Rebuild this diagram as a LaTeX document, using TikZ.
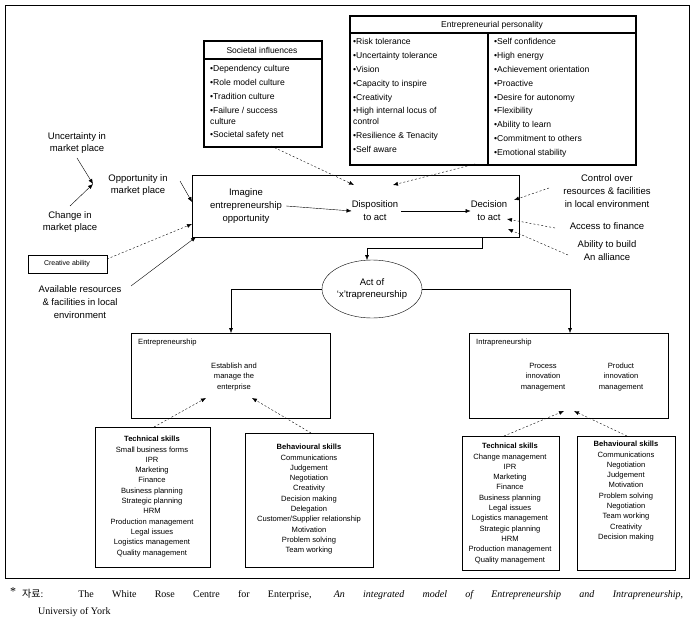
\documentclass[tikz,border=0pt]{standalone}
\usepackage{fontspec}
\setmainfont{Liberation Sans}
\newfontfamily\serifff{Liberation Serif}
\newfontfamily\kor{Noto Sans CJK KR}
\usetikzlibrary{arrows.meta,shapes.geometric}
\begin{document}
\begin{tikzpicture}[x=1pt,y=-1pt,
  box/.style={draw,inner sep=0pt,anchor=north west},
  tbox/.style={draw,line width=1.6pt,inner sep=0pt,anchor=north west},
  txt/.style={font=\fontsize{8.5}{10}\selectfont,align=center,inner sep=0pt},
  lbl/.style={txt,font=\fontsize{9.5}{12.8}\selectfont},
  lst/.style={font=\fontsize{8.6}{13.9}\selectfont,align=left,inner sep=0pt,anchor=north west},
  sk/.style={font=\fontsize{7.6}{10.3}\selectfont,align=center,inner sep=0pt,anchor=north},
  arr/.style={-{Latex[length=5pt,width=4pt]}},
  darr/.style={arr,dashed,dash pattern=on 2pt off 2pt}]
\useasboundingbox (0,0) rectangle (695,628);
\draw (5,5) rectangle (689,578);
% Entrepreneurial personality
\node[tbox,minimum width=286pt,minimum height=149pt] (ep) at (349,15) {};
\draw[line width=1.6pt] (349,33) -- (635,33);
\draw[line width=1.6pt] (488,33) -- (488,164);
\node[txt] (eph) at (492,25) {Entrepreneurial personality};
\node[lst] (epl) at (353,38) {•Risk tolerance\\•Uncertainty tolerance\\•Vision\\•Capacity to inspire\\•Creativity\\•High internal locus of\\[-3pt]control\\•Resilience \& Tenacity\\•Self aware};
\node[lst] (epr) at (494,38) {•Self confidence\\•High energy\\•Achievement orientation\\•Proactive\\•Desire for autonomy\\•Flexibility\\•Ability to learn\\•Commitment to others\\•Emotional stability};
% Societal
\node[tbox,minimum width=118pt,minimum height=106pt] (si) at (203,40) {};
\draw[line width=1.6pt] (203,59) -- (321,59);
\node[txt] (sih) at (262,50) {Societal influences};
\node[lst] (sil) at (210,65) {•Dependency culture\\•Role model culture\\•Tradition culture\\•Failure / success\\[-3pt]culture\\•Societal safety net};
% main box
\node[box,minimum width=327pt,minimum height=62pt] (mb) at (192,175) {};
\node[lbl] (im) at (246,206) {Imagine\\entrepreneurship\\opportunity};
\node[lbl] (di) at (375,211) {Disposition\\to act};
\node[lbl] (de) at (489,211) {Decision\\to act};
\draw[arr] (im.east) ++(4,0) coordinate (a1) (a1) -- (di.west);
\draw[arr] (di.east) ++(3,0) coordinate (a2) (a2) -- (de.west);
% left inputs
\node[lbl] (un) at (77,143) {Uncertainty in\\market place};
\node[lbl] (op) at (138,185) {Opportunity in\\market place};
\node[lbl] (ch) at (70,222) {Change in\\market place};
\coordinate (opl) at (93,184);
\draw[arr] (77,158) -- (opl);
\draw[arr] (70,206) -- (opl);
\draw[arr] (180,181) -- (192,202);
\node[box,minimum width=79pt,minimum height=18pt] (cr) at (28,255) {};
\node[txt,font=\fontsize{7}{8}\selectfont] (crt) at (67,264) {Creative ability};
\draw[darr] (107,259) -- (192,224);
\node[lbl] (av) at (80,302) {Available resources\\\& facilities in local\\environment};
\draw[arr] (131,286) -- (196,237);
% top dashed arrows
\draw[darr] (271,146) -- (354,185);
\draw[darr] (475,164) -- (393,185);
% right inputs
\node[lbl] (co) at (607,191) {Control over\\resources \& facilities\\in local environment};
\node[lbl] (fi) at (607,226) {Access to finance};
\node[lbl] (al) at (607,251) {Ability to build\\An alliance};
\draw[darr] (549,188) -- (514,200);
\draw[darr] (555,228) -- (507,219);
\draw[darr] (568,255) -- (508,229);
% ellipse
\node[ellipse,draw,minimum width=100pt,minimum height=58pt,inner sep=0pt,lbl] (xt) at (372,289) {Act of\\`x'trapreneurship};
\draw[arr] (482,237) -- (482,248) -- (367,248) -- (367,260);
% lower boxes
\node[box,minimum width=199pt,minimum height=85pt] (en) at (131,333) {};
\node[box,minimum width=199pt,minimum height=85pt] (in) at (469,333) {};
\draw[arr] (xt.west) -- (231,289) -- (231,333);
\draw[arr] (xt.east) -- (570,289) -- (570,333);
\node[txt,font=\fontsize{7.6}{10}\selectfont,anchor=west] (ent) at (138,343) {Entrepreneurship};
\node[txt,font=\fontsize{7.6}{10}\selectfont,anchor=west] (int) at (476,343) {Intrapreneurship};
\node[txt,font=\fontsize{7.6}{10.3}\selectfont] (es) at (234,377) {Establish and\\manage the\\enterprise};
\node[txt,font=\fontsize{7.6}{10.3}\selectfont] (pi) at (543,377) {Process\\innovation\\management};
\node[txt,font=\fontsize{7.6}{10.3}\selectfont] (pd) at (621,377) {Product\\innovation\\management};
% skill boxes
\node[box,minimum width=115pt,minimum height=140pt] (t1) at (95,427) {};
\node[sk] (t1t) at (152,436) {\textbf{Technical skills}\\Small business forms\\IPR\\Marketing\\Finance\\Business planning\\Strategic planning\\HRM\\Production management\\Legal issues\\Logistics management\\Quality management};
\node[box,minimum width=128pt,minimum height=134pt] (b1) at (245,433) {};
\node[sk] (b1t) at (309,444) {\textbf{Behavioural skills}\\Communications\\Judgement\\Negotiation\\Creativity\\Decision making\\Delegation\\Customer/Supplier relationship\\Motivation\\Problem solving\\Team working};
\node[box,minimum width=97pt,minimum height=134pt] (t2) at (462,436) {};
\node[sk] (t2t) at (510,443) {\textbf{Technical skills}\\Change management\\IPR\\Marketing\\Finance\\Business planning\\Legal issues\\Logistics management\\Strategic planning\\HRM\\Production management\\Quality management};
\node[box,minimum width=98pt,minimum height=134pt] (b2) at (577,436) {};
\node[sk] (b2t) at (626,441) {\textbf{Behavioural skills}\\Communications\\Negotiation\\Judgement\\Motivation\\Problem solving\\Negotiation\\Team working\\Creativity\\Decision making};
\draw[darr] (154,427) -- (206,398);
\draw[darr] (311,433) -- (252,398);
\draw[darr] (504,436) -- (564,411);
\draw[darr] (627,436) -- (574,411);
% footnote
\node[inner sep=0pt,anchor=west,text width=673pt,align=justify,font=\fontsize{10}{12}\selectfont] (fn) at (10,594) {\serifff\parfillskip=0pt \raisebox{2pt}{\large*}\hspace{6pt}{\kor 자료}: The White Rose Centre for Enterprise, \textit{An integrated model of Entrepreneurship and Intrapreneurship},\par};
\node[inner sep=0pt,anchor=west,font=\fontsize{10}{12}\selectfont] (fn2) at (38,612) {\serifff Universiy of York};
\end{tikzpicture}
\end{document}
